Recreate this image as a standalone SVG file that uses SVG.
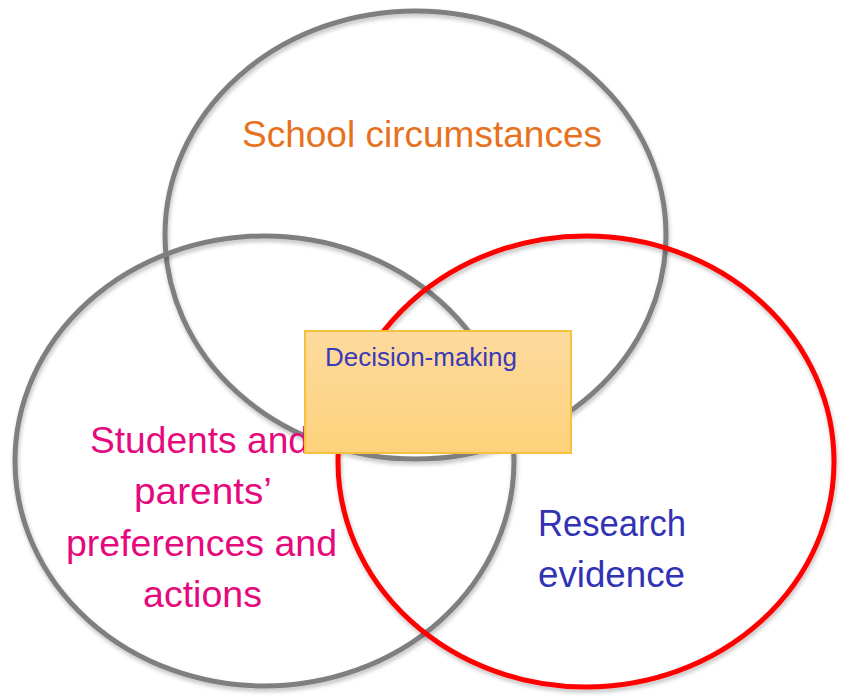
<svg xmlns="http://www.w3.org/2000/svg" width="851" height="698" viewBox="0 0 851 698">
  <style>
    .ring { fill: none; stroke-width: 5; }
    .gray { stroke: #7F7F7F; }
    .red { stroke: #FF0000; }
    .lbl { font-family: "Liberation Sans", Arial, sans-serif; }
  </style>
  <defs>
    <linearGradient id="boxGrad" x1="0" y1="0" x2="0" y2="1">
      <stop offset="0" stop-color="#FDDA9E"/>
      <stop offset="1" stop-color="#FED27B"/>
    </linearGradient>
    <filter id="shadow" x="-10%" y="-10%" width="120%" height="120%">
      <feGaussianBlur in="SourceAlpha" stdDeviation="2"/>
      <feOffset dx="1" dy="3" result="b"/>
      <feComponentTransfer><feFuncA type="linear" slope="0.25"/></feComponentTransfer>
      <feMerge><feMergeNode/><feMergeNode in="SourceGraphic"/></feMerge>
    </filter>
  </defs>
  <rect width="851" height="698" fill="#FFFFFF"/>

  <g id="school">
    <ellipse class="ring gray" cx="415.5" cy="235" rx="250.5" ry="224" filter="url(#shadow)"/>
    <text class="lbl" x="242" y="147" font-size="37" fill="#E8711E" textLength="360" lengthAdjust="spacingAndGlyphs">School circumstances</text>
  </g>

  <g id="students">
    <ellipse class="ring gray" cx="264.5" cy="461" rx="249.5" ry="225" filter="url(#shadow)"/>
    <g class="lbl" font-size="37" fill="#E6097D">
      <text x="90" y="453" textLength="219" lengthAdjust="spacingAndGlyphs">Students and</text>
      <text x="134" y="504" textLength="138" lengthAdjust="spacingAndGlyphs">parents’</text>
      <text x="66" y="556" textLength="271" lengthAdjust="spacingAndGlyphs">preferences and</text>
      <text x="143" y="607" textLength="119" lengthAdjust="spacingAndGlyphs">actions</text>
    </g>
  </g>

  <g id="research">
    <ellipse class="ring red" cx="586" cy="461.5" rx="248" ry="225.5" filter="url(#shadow)"/>
    <g class="lbl" font-size="36" fill="#3232B4">
      <text x="538" y="536" textLength="148" lengthAdjust="spacingAndGlyphs">Research</text>
      <text x="538" y="587" textLength="147" lengthAdjust="spacingAndGlyphs">evidence</text>
    </g>
  </g>

  <g id="decision">
    <rect x="305" y="331" width="266" height="122" fill="url(#boxGrad)" stroke="#F5C23E" stroke-width="2"/>
    <text class="lbl" x="325" y="366" font-size="26" fill="#3A3AB8" textLength="192" lengthAdjust="spacingAndGlyphs">Decision-making</text>
  </g>

  <g id="connectors"/>
</svg>
